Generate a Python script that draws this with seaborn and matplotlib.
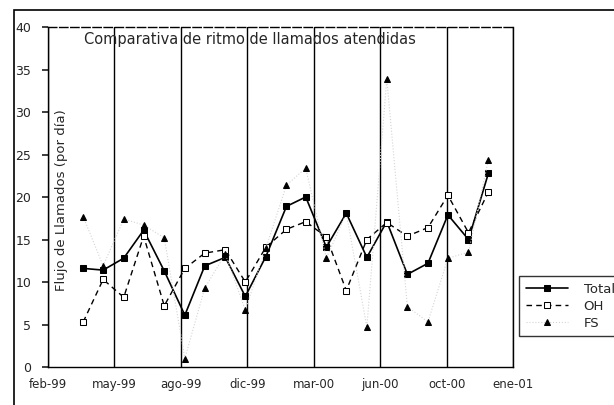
import pandas as pd
import numpy as np
import matplotlib.pyplot as plt
from matplotlib.patches import Rectangle
import seaborn as sns

# data (monthly values)
months = pd.date_range('1999-04-01', '2000-12-01', freq='MS')
total = [11.6, 11.4, 12.8, 16.1, 11.3, 6.1, 11.9, 12.9, 8.3, 13.0, 18.9,
         20.0, 14.1, 18.1, 12.9, 17.1, 10.9, 12.2, 17.9, 15.0, 22.8]
oh = [5.3, 10.3, 8.2, 15.4, 7.2, 11.6, 13.4, 13.8, 10.0, 14.1, 16.2,
      17.1, 15.3, 9.0, 15.0, 17.0, 15.4, 16.4, 20.2, 15.8, 20.6]
fs = [17.7, 11.9, 17.4, 16.7, 15.2, 1.0, 9.3, 13.3, 6.7, 14.0, 21.4,
      23.4, 12.8, 18.1, 4.7, 33.9, 7.1, 5.3, 12.8, 13.5, 24.4]

tick_dates = pd.to_datetime(['1999-02-07', '1999-05-18', '1999-08-26', '1999-12-04',
                             '2000-03-13', '2000-06-21', '2000-09-29', '2001-01-07'])
tick_labels = ['feb-99', 'may-99', 'ago-99', 'dic-99', 'mar-00', 'jun-00', 'oct-00', 'ene-01']

df = pd.DataFrame({'Fecha': months, 'Total': total, 'OH': oh, 'FS': fs})

sns.set_theme(style="white")
plt.rcParams['font.family'] = ['DejaVu Sans']

fig = plt.figure(figsize=(6.14, 4.05), dpi=100)
ax = fig.add_axes([48 / 614, 1 - 367 / 405, 465 / 614, 340 / 405])

sns.lineplot(data=df, x='Fecha', y='Total', ax=ax, color='black', lw=1.2,
             marker='s', markersize=5, markeredgecolor='black', label='Total')
sns.lineplot(data=df, x='Fecha', y='OH', ax=ax, color='black', lw=1.0,
             linestyle=(0, (4, 3)), marker='s', markersize=5,
             markerfacecolor='white', markeredgecolor='black', label='OH')
sns.lineplot(data=df, x='Fecha', y='FS', ax=ax, color='#d4d4d4', lw=0.8,
             linestyle=':', marker='^', markersize=4.5, markerfacecolor='black',
             markeredgecolor='black', label='FS')

ax.set_xlim(tick_dates[0], tick_dates[-1])
ax.set_ylim(0, 40)
ax.set_xticks(tick_dates)
ax.set_xticklabels(tick_labels, fontsize=8.5)
ax.set_yticks(range(0, 41, 5))
ax.tick_params(axis='y', labelsize=9, length=4, direction='out', left=True, pad=8)
ax.tick_params(axis='x', length=0, pad=8)
ax.xaxis.grid(True, color='black', lw=1.0)
ax.yaxis.grid(False)
for s in ax.spines.values():
    s.set_color('black')
    s.set_linewidth(1.0)
ax.spines['top'].set_linestyle((0, (6, 2)))
ax.set_xlabel('')
ax.set_ylabel('')

ax.text(0.434, 0.962, 'Comparativa de ritmo de llamados atendidas', transform=ax.transAxes,
        ha='center', va='center', fontsize=10.5)
ax.text(0.03, 0.49, 'Flujo de Llamados (por día)', transform=ax.transAxes,
        rotation=90, ha='center', va='center', fontsize=9.5)

ax.get_legend().remove()
handles, labels = ax.get_legend_handles_labels()
fig.legend(handles, labels, loc='upper left', bbox_to_anchor=(519 / 614, 1 - 276 / 405),
           borderaxespad=0, frameon=True, fancybox=False, edgecolor='black', fontsize=9.5,
           handlelength=3.2, borderpad=0.5, labelspacing=0.3, handletextpad=1.2)
leg = fig.legends[0]
leg.get_frame().set_linewidth(1.0)

# outer chart-area frame (cut off by the scan on right and bottom)
fig.add_artist(Rectangle((14 / 614, -0.2), 1.0, 1.2 - 10 / 405, transform=fig.transFigure,
                         fill=False, edgecolor='black', lw=1.2, clip_on=False))

fig.savefig('out.png', dpi=100, facecolor='white')
plt.close(fig)
